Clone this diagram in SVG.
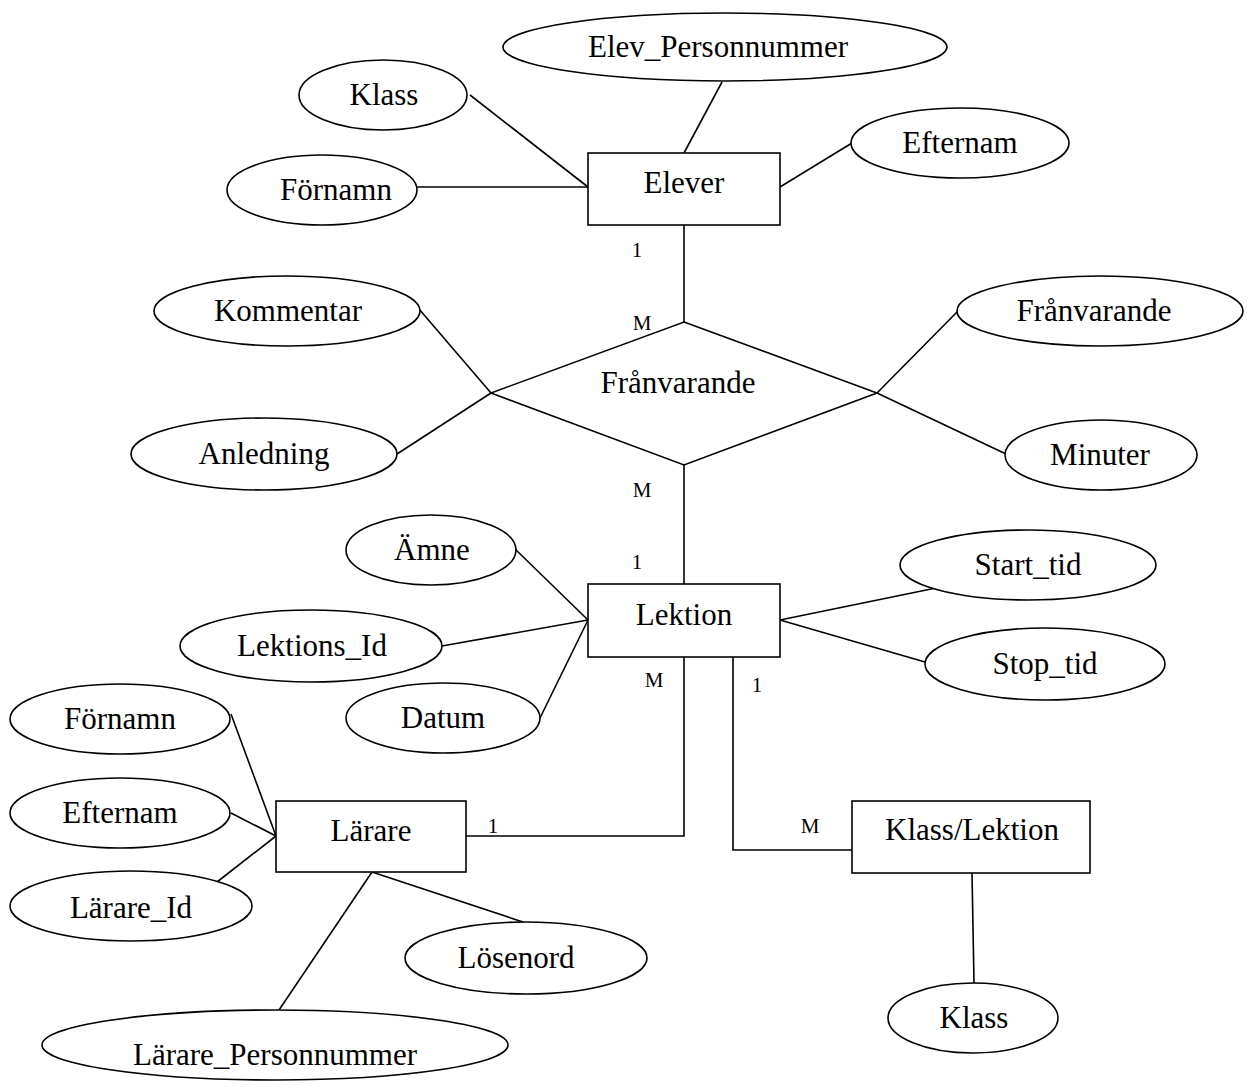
<svg xmlns="http://www.w3.org/2000/svg" width="1249" height="1090" viewBox="0 0 1249 1090">
<style>
.s{fill:#fff;stroke:#000;stroke-width:1.6}
.c line,.c polyline{fill:none;stroke:#000;stroke-width:1.6}
text{font-family:"Liberation Serif","Times New Roman",serif;fill:#000}
.t{font-size:31px;text-anchor:middle}
.l{font-size:21px;text-anchor:middle}
</style>
<rect width="1249" height="1090" fill="#fff"/>
<g class="c" id="connectors">
<line x1="722" y1="82" x2="684" y2="153"/>
<line x1="470" y1="95" x2="588" y2="187"/>
<line x1="416" y1="187" x2="588" y2="187"/>
<line x1="852" y1="143" x2="780" y2="187"/>
<line x1="684" y1="225" x2="684" y2="322"/>
<line x1="419" y1="309" x2="491" y2="393"/>
<line x1="397" y1="454" x2="491" y2="393"/>
<line x1="958" y1="311" x2="877" y2="393"/>
<line x1="1006" y1="454" x2="877" y2="393"/>
<line x1="684" y1="465" x2="684" y2="584"/>
<line x1="514" y1="548" x2="588" y2="620"/>
<line x1="442" y1="646" x2="588" y2="620"/>
<line x1="540" y1="718" x2="588" y2="620"/>
<line x1="936" y1="588" x2="780" y2="620"/>
<line x1="925" y1="662" x2="780" y2="620"/>
<polyline points="684,657 684,836 466,836"/>
<polyline points="733,657 733,850 852,850"/>
<line x1="231" y1="714" x2="276" y2="836"/>
<line x1="231" y1="813" x2="276" y2="836"/>
<line x1="217" y1="882" x2="276" y2="836"/>
<line x1="372" y1="872" x2="523" y2="922"/>
<line x1="372" y1="872" x2="277" y2="1013"/>
<line x1="972" y1="873" x2="974" y2="983"/>
</g>
<g id="elever"><rect class="s" x="588" y="153" width="192" height="72"/><text class="t" x="684" y="193">Elever</text></g>
<g id="franvarande-rel"><polygon class="s" points="684,322 877,393 684,465 491,393"/><text class="t" x="678" y="393">Frånvarande</text></g>
<g id="lektion"><rect class="s" x="588" y="584" width="192" height="73"/><text class="t" x="684" y="625">Lektion</text></g>
<g id="larare"><rect class="s" x="276" y="801" width="190" height="71"/><text class="t" x="371" y="841">Lärare</text></g>
<g id="klass-lektion"><rect class="s" x="852" y="801" width="238" height="72"/><text class="t" x="972" y="840">Klass/Lektion</text></g>
<g id="a-elev-pnr"><ellipse class="s" cx="725" cy="47" rx="222" ry="34"/><text class="t" x="718" y="57">Elev_Personnummer</text></g>
<g id="a-klass1"><ellipse class="s" cx="383" cy="95" rx="84" ry="35"/><text class="t" x="384" y="105">Klass</text></g>
<g id="a-efternam1"><ellipse class="s" cx="960" cy="143" rx="109" ry="35"/><text class="t" x="960" y="153">Efternam</text></g>
<g id="a-fornamn1"><ellipse class="s" cx="322" cy="190" rx="95" ry="35"/><text class="t" x="336" y="200">Förnamn</text></g>
<g id="a-kommentar"><ellipse class="s" cx="287" cy="311" rx="133" ry="35"/><text class="t" x="288" y="321">Kommentar</text></g>
<g id="a-franvarande"><ellipse class="s" cx="1100" cy="311" rx="143" ry="35"/><text class="t" x="1094" y="321">Frånvarande</text></g>
<g id="a-anledning"><ellipse class="s" cx="264" cy="454" rx="133" ry="36"/><text class="t" x="264" y="464">Anledning</text></g>
<g id="a-minuter"><ellipse class="s" cx="1101" cy="455" rx="96" ry="35"/><text class="t" x="1100" y="465">Minuter</text></g>
<g id="a-amne"><ellipse class="s" cx="431" cy="550" rx="85" ry="35"/><text class="t" x="432" y="560">Ämne</text></g>
<g id="a-start"><ellipse class="s" cx="1028" cy="565" rx="128" ry="35"/><text class="t" x="1028" y="575">Start_tid</text></g>
<g id="a-lektions-id"><ellipse class="s" cx="311" cy="646" rx="131" ry="36"/><text class="t" x="312" y="656">Lektions_Id</text></g>
<g id="a-stop"><ellipse class="s" cx="1045" cy="664" rx="120" ry="36"/><text class="t" x="1045" y="674">Stop_tid</text></g>
<g id="a-datum"><ellipse class="s" cx="443" cy="718" rx="97" ry="35"/><text class="t" x="443" y="728">Datum</text></g>
<g id="a-fornamn2"><ellipse class="s" cx="120" cy="719" rx="110" ry="35"/><text class="t" x="120" y="729">Förnamn</text></g>
<g id="a-efternam2"><ellipse class="s" cx="120" cy="813" rx="110" ry="35"/><text class="t" x="120" y="823">Efternam</text></g>
<g id="a-larare-id"><ellipse class="s" cx="131" cy="906" rx="121" ry="35"/><text class="t" x="131" y="918">Lärare_Id</text></g>
<g id="a-losenord"><ellipse class="s" cx="526" cy="958" rx="121" ry="36"/><text class="t" x="516" y="968">Lösenord</text></g>
<g id="a-larare-pnr"><ellipse class="s" cx="275" cy="1045" rx="233" ry="35"/><text class="t" x="275" y="1065">Lärare_Personnummer</text></g>
<g id="a-klass2"><ellipse class="s" cx="973" cy="1018" rx="85" ry="35"/><text class="t" x="974" y="1028">Klass</text></g>
<g id="labels">
<text class="l" x="637" y="257">1</text>
<text class="l" x="642" y="330">M</text>
<text class="l" x="642" y="497">M</text>
<text class="l" x="637" y="569">1</text>
<text class="l" x="654" y="687">M</text>
<text class="l" x="757" y="692">1</text>
<text class="l" x="493" y="833">1</text>
<text class="l" x="810" y="833">M</text>
</g>
</svg>
